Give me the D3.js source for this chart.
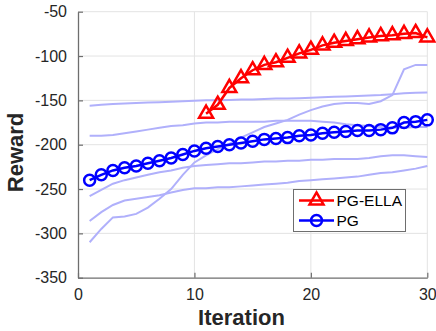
<!DOCTYPE html>
<html>
<head>
<meta charset="utf-8">
<script src="https://cdn.jsdelivr.net/npm/d3@7"></script>
<style>
  body { margin: 0; background: #fff; }
  svg { display: block; font-family: "Liberation Sans", Arial, sans-serif; }
</style>
</head>
<body>
<svg id="chart" width="436" height="331"></svg>
<script>
// iterations
const iterations = d3.range(1, 31);
const ellaIterations = d3.range(11, 31);

// main series
const pgElla = [-165, -155, -136, -125, -116, -110, -107, -102, -97, -93,
                -88, -85, -83, -81, -79, -77.5, -76.5, -75, -74, -79];
const pg = [-240, -234, -229, -226, -224, -221, -218, -215, -211, -207,
            -204, -202, -200, -198, -196, -194, -193, -192, -190, -189,
            -187, -186, -185, -184, -184, -183, -181, -175, -174, -172];

// light background runs
const runA = [-156, -155, -154, -153.5, -153, -152.5, -152, -151.5, -151, -150.5,
              -150, -150, -149.5, -149, -149, -148.5, -148, -148, -147.5, -147,
              -146.5, -146, -145.5, -145, -144.5, -144, -143, -142, -141.5, -141];
const runB = [-190, -190, -189, -187, -185, -183, -181, -179, -178, -176,
              -175, -175, -174, -174, -174, -174, -173, -173, -173, -173,
              -174, -175, -177, -178, -179, -180, -181, -181, -180, -180];
const runC = [-310, -295, -282, -281, -278, -271, -261, -250, -234, -220,
              -212, -205, -199, -192, -186, -180, -176, -172, -166, -161,
              -157, -154, -153, -153, -154, -151, -144, -115, -110, -110];
const runD = [-258, -251, -244, -240, -237, -234, -231, -229, -226, -224,
              -223, -222, -221, -221, -220, -219, -219, -218, -218, -217,
              -217, -216, -216, -216, -215, -213, -212, -212, -213, -214];
const runE = [-286, -276, -268, -263, -261, -259, -257, -254, -251, -249,
              -249, -248, -248, -247, -246, -245, -244, -243, -241, -240,
              -239, -238, -237, -236, -234, -232, -231, -229, -227, -224];

const xTicks = [0, 10, 20, 30];
const yTicks = [-350, -300, -250, -200, -150, -100, -50];

const svg = d3.select('#chart');
const plotLeft = 78, plotRight = 427.3, plotTop = 11.7, plotBottom = 277.7;

const x = d3.scaleLinear().domain([0, 30]).range([plotLeft, plotRight]);
const y = d3.scaleLinear().domain([-350, -50]).range([plotBottom, plotTop]);

// grid
svg.append('g')
    .selectAll('line')
    .data(xTicks.slice(1))
    .enter().append('line')
    .attr('x1', d => x(d)).attr('x2', d => x(d))
    .attr('y1', plotTop).attr('y2', plotBottom)
    .style('stroke', '#e3e3e3').style('stroke-width', 1);
svg.append('g')
    .selectAll('line')
    .data(yTicks.slice(1))
    .enter().append('line')
    .attr('x1', plotLeft).attr('x2', plotRight)
    .attr('y1', d => y(d)).attr('y2', d => y(d))
    .style('stroke', '#e3e3e3').style('stroke-width', 1);

// axes (plain hyphen minus like the original)
const fmt = d => String(d);
const xAxis = svg.append('g')
    .attr('transform', `translate(0,${plotBottom})`)
    .call(d3.axisBottom(x).tickValues(xTicks).tickFormat(fmt).tickSizeInner(-5).tickSizeOuter(0).tickPadding(11));
const yAxis = svg.append('g')
    .attr('transform', `translate(${plotLeft},0)`)
    .call(d3.axisLeft(y).tickValues(yTicks).tickFormat(fmt).tickSizeInner(-5).tickSizeOuter(0).tickPadding(11));

[xAxis, yAxis].forEach(a => {
    a.select('.domain').style('stroke', '#6e6e6e').style('stroke-width', 1.3);
    a.selectAll('.tick line').style('stroke', '#6e6e6e').style('stroke-width', 1.2);
    a.selectAll('.tick text')
        .style('font-size', '16px')
        .style('fill', '#262626')
        .style('font-family', '"Liberation Sans", Arial, sans-serif');
});

// axis titles
svg.append('text')
    .attr('x', 241.5)
    .attr('y', 325)
    .attr('text-anchor', 'middle')
    .style('font-size', '22px')
    .style('font-weight', 'bold')
    .style('fill', '#262626')
    .text('Iteration');
svg.append('text')
    .attr('transform', 'translate(23,152.5) rotate(-90)')
    .attr('text-anchor', 'middle')
    .style('font-size', '22px')
    .style('font-weight', 'bold')
    .style('fill', '#262626')
    .text('Reward');

const line = d3.line()
    .x(d => x(d[0]))
    .y(d => y(d[1]));

// light runs
[runA, runB, runC, runD, runE].forEach(run => {
    svg.append('path')
        .datum(iterations.map((it, i) => [it, run[i]]))
        .attr('d', line)
        .style('fill', 'none')
        .style('stroke', '#b0b0fb')
        .style('stroke-width', 2);
});

// PG
const pgData = iterations.map((it, i) => [it, pg[i]]);
svg.append('path')
    .datum(pgData)
    .attr('d', line)
    .style('fill', 'none')
    .style('stroke', '#0000ff')
    .style('stroke-width', 2.5);
svg.selectAll('.pg-marker')
    .data(pgData)
    .enter().append('circle')
    .attr('class', 'pg-marker')
    .attr('cx', d => x(d[0]))
    .attr('cy', d => y(d[1]))
    .attr('r', 5.5)
    .style('fill', 'none')
    .style('stroke', '#0000ff')
    .style('stroke-width', 2.5);

// PG-ELLA
const ellaData = ellaIterations.map((it, i) => [it, pgElla[i]]);
const tri = d3.symbol().type(d3.symbolTriangle).size(85);
svg.append('path')
    .datum(ellaData)
    .attr('d', line)
    .style('fill', 'none')
    .style('stroke', '#ff0000')
    .style('stroke-width', 2.5);
svg.selectAll('.ella-marker')
    .data(ellaData)
    .enter().append('path')
    .attr('class', 'ella-marker')
    .attr('d', tri)
    .attr('transform', d => `translate(${x(d[0])},${y(d[1])})`)
    .style('fill', 'none')
    .style('stroke', '#ff0000')
    .style('stroke-width', 2.5);

// legend
const legend = svg.append('g');
legend.append('rect')
    .attr('x', 293.5).attr('y', 189.5)
    .attr('width', 112).attr('height', 42)
    .style('fill', '#fff')
    .style('stroke', '#6e6e6e')
    .style('stroke-width', 1);
const items = [
    { name: 'PG-ELLA', color: '#ff0000', shape: 'tri' },
    { name: 'PG', color: '#0000ff', shape: 'circle' }
];
items.forEach((it, i) => {
    const cy = 200.5 + i * 20;
    legend.append('line')
        .attr('x1', 299).attr('x2', 334)
        .attr('y1', cy).attr('y2', cy)
        .style('stroke', it.color).style('stroke-width', 2.5);
    if (it.shape === 'tri') {
        legend.append('path')
            .attr('d', tri)
            .attr('transform', `translate(316.5,${cy})`)
            .style('fill', 'none').style('stroke', it.color).style('stroke-width', 2.5);
    } else {
        legend.append('circle')
            .attr('cx', 316.5).attr('cy', cy).attr('r', 5.5)
            .style('fill', 'none').style('stroke', it.color).style('stroke-width', 2.5);
    }
    legend.append('text')
        .attr('x', 336.5).attr('y', cy + 5.5)
        .style('font-size', '15.5px')
        .style('fill', '#000')
        .text(it.name);
});
</script>
</body>
</html>
